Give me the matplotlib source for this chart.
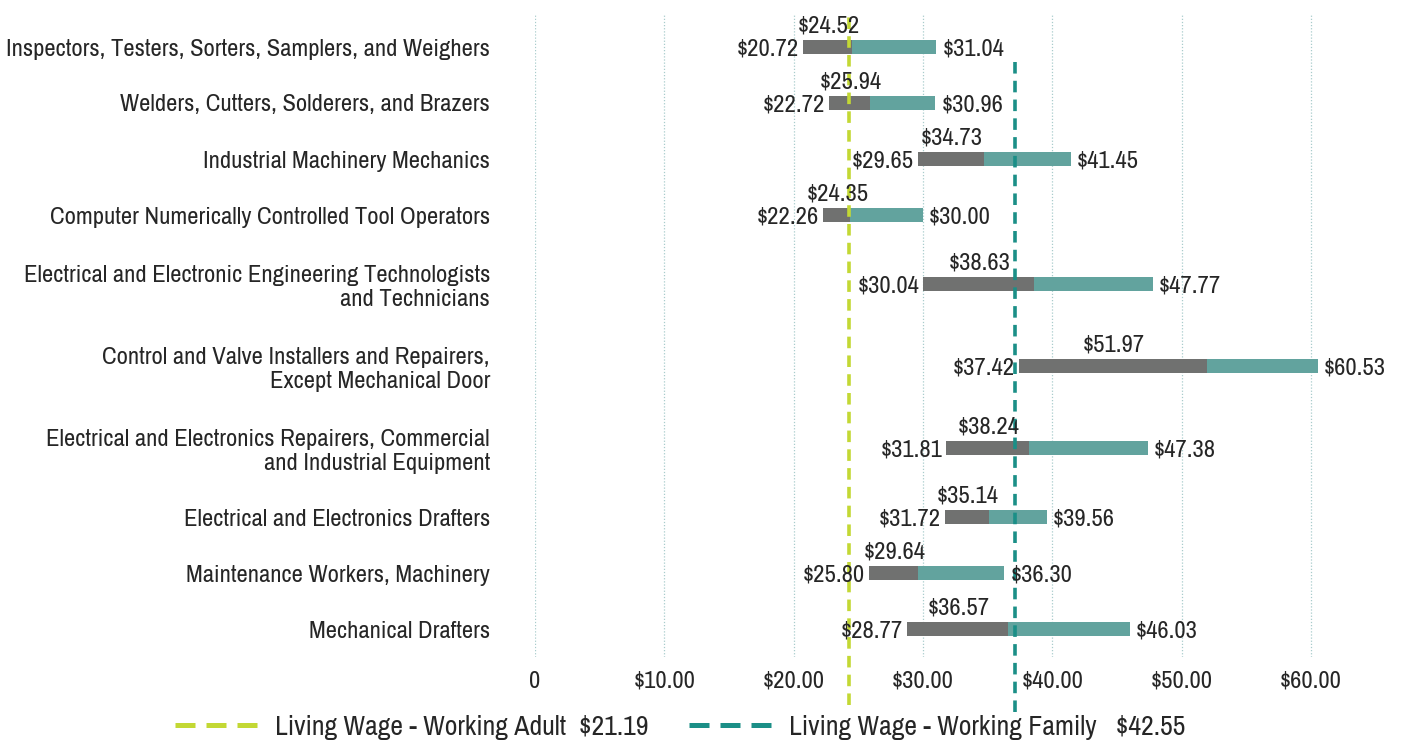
import matplotlib
matplotlib.use("Agg")
import matplotlib.pyplot as plt
from matplotlib.lines import Line2D
from matplotlib import font_manager
from matplotlib.textpath import TextPath
from matplotlib.font_manager import FontProperties
import numpy as np

# pick a condensed family if one exists, otherwise a regular sans
names = sorted({f.name for f in font_manager.fontManager.ttflist})
cond = [n for n in names if ("Condensed" in n or "Narrow" in n)]
base = cond[0] if cond else ("Liberation Sans" if "Liberation Sans" in names else "DejaVu Sans")
plt.rcParams['font.family'] = [base, 'DejaVu Sans']

categories = [
    "Inspectors, Testers, Sorters, Samplers, and Weighers",
    "Welders, Cutters, Solderers, and Brazers",
    "Industrial Machinery Mechanics",
    "Computer Numerically Controlled Tool Operators",
    "Electrical and Electronic Engineering Technologists\nand Technicians",
    "Control and Valve Installers and Repairers,\nExcept Mechanical Door",
    "Electrical and Electronics Repairers, Commercial\nand Industrial Equipment",
    "Electrical and Electronics Drafters",
    "Maintenance Workers, Machinery",
    "Mechanical Drafters",
]
low = [20.72, 22.72, 29.65, 22.26, 30.04, 37.42, 31.81, 31.72, 25.80, 28.77]
median = [24.52, 25.94, 34.73, 24.35, 38.63, 51.97, 38.24, 35.14, 29.64, 36.57]
high = [31.04, 30.96, 41.45, 30.00, 47.77, 60.53, 47.38, 39.56, 36.30, 46.03]

xticks = [0, 10, 20, 30, 40, 50, 60]
xticklabels = ["0", "$10.00", "$20.00", "$30.00", "$40.00", "$50.00", "$60.00"]

adult_line_pos = 24.25
family_line_pos = 37.1
legend_labels = ["Living Wage - Working Adult  $21.19", "Living Wage - Working Family   $42.55"]


def fit_size(text, target_px, cap):
    tp = TextPath((0, 0), text, size=10, prop=FontProperties(family=base))
    w10 = tp.get_extents().width * 100 / 72.0
    return min(cap, 10 * target_px / w10)


FS = fit_size(categories[1], 368.0, 18.0)
LFS = fit_size(legend_labels[0], 378.0, 20.0)

GRAY = "#707170"
TEAL = "#62a39e"
YELLOW = "#c3d834"
DTEAL = "#1b8f87"
TXT = "#262626"

W, H = 1404, 744
fig = plt.figure(figsize=(W / 100, H / 100), dpi=100)
ax_left, ax_right = 535, 1375
ax_top, ax_bot = 14, 657
ax = fig.add_axes([ax_left / W, 1 - ax_bot / H, (ax_right - ax_left) / W, (ax_bot - ax_top) / H])

# row positions: taller rows for two-line labels
half = [41 if "\n" in c else 28 for c in categories]
ypos = []
cur = 0
for i, h in enumerate(half):
    if i == 0:
        cur = h
    else:
        cur += half[i - 1] + h
    ypos.append(cur)
total = ypos[-1] + half[-1]
ax.set_ylim(total, -(19 - 14))
ax.set_xlim(0, (ax_right - ax_left) / 12.93)

low_a = np.array(low)
med_a = np.array(median)
high_a = np.array(high)
ax.barh(ypos, med_a - low_a, left=low_a, height=14, color=GRAY, zorder=3)
ax.barh(ypos, high_a - med_a, left=med_a, height=14, color=TEAL, zorder=3)

for y, lo, me, hi in zip(ypos, low, median, high):
    ax.annotate(f"${lo:.2f}", (lo, y), xytext=(-4, -2), textcoords="offset pixels",
                ha="right", va="center", fontsize=FS, color=TXT, zorder=5)
    ax.annotate(f"${hi:.2f}", (hi, y), xytext=(6, -2), textcoords="offset pixels",
                ha="left", va="center", fontsize=FS, color=TXT, zorder=5)
    ax.annotate(f"${me:.2f}", ((lo + me) / 2, y), xytext=(1, 21), textcoords="offset pixels",
                ha="center", va="center", fontsize=FS, color=TXT, zorder=5)

ax.set_yticks(ypos)
ax.set_yticklabels(categories, fontsize=FS, color=TXT, ha="right", linespacing=1.15)
ax.tick_params(axis="y", length=0, pad=45 * 0.72)
ax.set_xticks(xticks)
ax.set_xticklabels(xticklabels, fontsize=FS, color=TXT)
ax.tick_params(axis="x", length=0, pad=10)
ax.grid(axis="x", linestyle=(0, (1, 1.5)), color="#a9cccc", linewidth=0.9, zorder=0)
for s in ax.spines.values():
    s.set_visible(False)

axh = ax_bot - ax_top
ax.axvline(adult_line_pos, ymin=(ax_bot - 705) / axh, ymax=1.0, color=YELLOW, lw=2.6,
           linestyle=(0, (3.2, 2)), clip_on=False, zorder=4)
ax.axvline(family_line_pos, ymin=(ax_bot - 712) / axh, ymax=(ax_bot - 60) / axh, color=DTEAL, lw=2.6,
           linestyle=(0, (3.2, 2)), clip_on=False, zorder=4)

handles = [Line2D([], [], color=YELLOW, lw=3.6, linestyle=(0, (4.0, 2.2))),
           Line2D([], [], color=DTEAL, lw=3.6, linestyle=(0, (4.0, 2.2)))]
pt = 72.0 / 100.0
leg = fig.legend(handles, legend_labels, loc="center", ncol=2, frameon=False,
                 bbox_to_anchor=(680 / W, 1 - 727 / H), fontsize=LFS,
                 handlelength=83 * pt / LFS, columnspacing=40 * pt / LFS,
                 handletextpad=17 * pt / LFS)
for t in leg.get_texts():
    t.set_color(TXT)

fig.savefig("out.png", dpi=100)
